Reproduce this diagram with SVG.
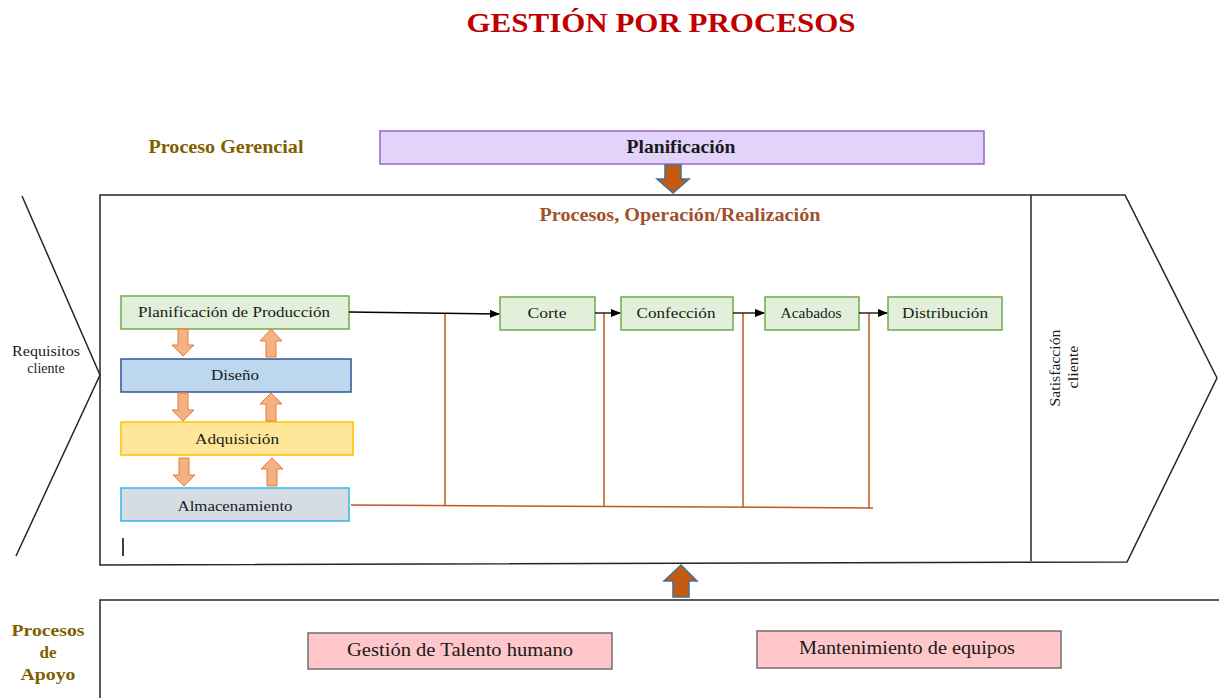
<svg xmlns="http://www.w3.org/2000/svg" width="1219" height="698" viewBox="0 0 1219 698" font-family="'Liberation Serif', 'Times New Roman', serif">
<style>
text{font-family:'Liberation Serif','Times New Roman',serif;fill:#1a1a1a}
.frame{fill:none;stroke:#262626;stroke-width:1.5}
.box{stroke-width:1.5}
.grn{fill:#e2efda;stroke:#70ad47}
.pink{fill:#ffc7ca;stroke:#6f6f6f;stroke-width:1.5}
.lbl{font-size:15px;text-anchor:middle}
.olive{fill:#7f6000;font-weight:bold}
.bigarrow{fill:#c55a11;stroke:#41719c;stroke-width:1.5}
.smarrow{fill:#f4b183;stroke:#ed7d31;stroke-width:1}
.flow{stroke:#000;stroke-width:1.3;fill:none}
.brown{stroke:#c0561f;stroke-width:1.5;fill:none}
</style>
<defs>
<marker id="ah" markerWidth="10" markerHeight="8" refX="9" refY="4" orient="auto" markerUnits="userSpaceOnUse">
<path d="M0,0 L10,4 L0,8 z" fill="#000"/>
</marker>
</defs>
<rect width="1219" height="698" fill="#fff"/>
<text x="661" y="32" font-size="27" font-weight="bold" text-anchor="middle" style="fill:#c00000" textLength="389" lengthAdjust="spacingAndGlyphs">GESTIÓN POR PROCESOS</text>

<g id="proceso-gerencial">
<text x="226" y="153" font-size="18" class="olive" text-anchor="middle" textLength="155" lengthAdjust="spacingAndGlyphs">Proceso Gerencial</text>
</g>
<g id="planificacion">
<rect x="380" y="131" width="604" height="33" fill="#e2d3fb" stroke="#9b63d0" stroke-width="1.5"/>
<text x="681" y="153" font-size="18" font-weight="bold" text-anchor="middle" textLength="109" lengthAdjust="spacingAndGlyphs">Planificación</text>
</g>

<g id="operacion-frame">
<path class="frame" d="M22,196 L100,375 L16,556"/>
<path class="frame" d="M100,195 L1125,195 L1217,378 L1127,562 L100,565 Z"/>
<line class="frame" x1="1031" y1="195" x2="1031" y2="561"/>
<text x="680" y="221" font-size="18" font-weight="bold" text-anchor="middle" style="fill:#a0522d" textLength="281" lengthAdjust="spacingAndGlyphs">Procesos, Operación/Realización</text>
<line x1="123" y1="538" x2="123" y2="556" stroke="#000" stroke-width="1.5"/>
</g>

<g id="requisitos-cliente">
<text x="46" y="356" font-size="14" text-anchor="middle" textLength="68" lengthAdjust="spacingAndGlyphs">Requisitos</text>
<text x="46" y="373" font-size="14" text-anchor="middle">cliente</text>
</g>
<g id="satisfaccion-cliente">
<text transform="translate(1060,368) rotate(-90)" font-size="14" text-anchor="middle" textLength="77" lengthAdjust="spacingAndGlyphs">Satisfacción</text>
<text transform="translate(1078,367) rotate(-90)" font-size="14" text-anchor="middle" textLength="43" lengthAdjust="spacingAndGlyphs">cliente</text>
</g>

<g id="arrow-planificacion">
<path class="bigarrow" d="M665,165 L681,165 L681,179 L689,179 L673,193 L657,179 L665,179 Z"/>
</g>
<g id="arrow-apoyo">
<path class="bigarrow" d="M673,597 L689,597 L689,581 L697,581 L681,565 L664,581 L673,581 Z"/>
</g>

<g id="planificacion-produccion">
<rect class="box grn" x="121" y="296" width="228" height="33"/>
<text class="lbl" x="234" y="317" textLength="192" lengthAdjust="spacingAndGlyphs">Planificación de Producción</text>
</g>
<g id="diseno">
<rect class="box" x="121" y="359" width="230" height="33" fill="#bdd7ee" stroke="#2f5597"/>
<text class="lbl" x="235" y="380" textLength="48" lengthAdjust="spacingAndGlyphs">Diseño</text>
</g>
<g id="adquisicion">
<rect class="box" x="121" y="422" width="232" height="33" fill="#ffe699" stroke="#ffc000"/>
<text class="lbl" x="237" y="444" textLength="84" lengthAdjust="spacingAndGlyphs">Adquisición</text>
</g>
<g id="almacenamiento">
<rect class="box" x="121" y="488" width="228" height="33" fill="#d6dce4" stroke="#33b5ee"/>
<text class="lbl" x="235" y="511" textLength="115" lengthAdjust="spacingAndGlyphs">Almacenamiento</text>
</g>

<g id="small-arrows">
<path class="smarrow" d="M178,329 L188,329 L188,345 L194,345 L183,356 L172,345 L178,345 Z"/>
<path class="smarrow" d="M266,357 L276,357 L276,341 L282,341 L271,329 L260,341 L266,341 Z"/>
<path class="smarrow" d="M178,393 L188,393 L188,410 L194,410 L183,421 L172,410 L178,410 Z"/>
<path class="smarrow" d="M266,421 L276,421 L276,404 L282,404 L271,393 L260,404 L266,404 Z"/>
<path class="smarrow" d="M179,458 L189,458 L189,475 L195,475 L184,486 L173,475 L179,475 Z"/>
<path class="smarrow" d="M267,486 L277,486 L277,469 L283,469 L272,458 L261,469 L267,469 Z"/>
</g>

<g id="corte">
<rect class="box grn" x="500" y="297" width="95" height="33"/>
<text class="lbl" x="547" y="318" textLength="39" lengthAdjust="spacingAndGlyphs">Corte</text>
</g>
<g id="confeccion">
<rect class="box grn" x="621" y="297" width="112" height="33"/>
<text class="lbl" x="676" y="318" textLength="79" lengthAdjust="spacingAndGlyphs">Confección</text>
</g>
<g id="acabados">
<rect class="box grn" x="765" y="297" width="94" height="33"/>
<text class="lbl" x="811" y="318" textLength="61" lengthAdjust="spacingAndGlyphs">Acabados</text>
</g>
<g id="distribucion">
<rect class="box grn" x="888" y="297" width="114" height="33"/>
<text class="lbl" x="945" y="318" textLength="86" lengthAdjust="spacingAndGlyphs">Distribución</text>
</g>

<g id="connectors">
<path class="brown" d="M351,505 L873,508"/>
<line class="brown" x1="445" y1="314" x2="445" y2="506"/>
<line class="brown" x1="604" y1="313" x2="604" y2="507"/>
<line class="brown" x1="743" y1="313" x2="743" y2="507"/>
<line class="brown" x1="869" y1="313" x2="869" y2="508"/>
<path class="flow" d="M349,312 L499,314" marker-end="url(#ah)"/>
<path class="flow" d="M595,313 L620,313" marker-end="url(#ah)"/>
<path class="flow" d="M733,313 L764,313" marker-end="url(#ah)"/>
<path class="flow" d="M859,313 L887,313" marker-end="url(#ah)"/>
</g>

<g id="procesos-apoyo">
<path class="frame" d="M100,698 L100,600 L1219,600"/>
<text x="48" y="636" font-size="17" class="olive" text-anchor="middle" textLength="73" lengthAdjust="spacingAndGlyphs">Procesos</text>
<text x="48" y="658" font-size="17" class="olive" text-anchor="middle">de</text>
<text x="48" y="680" font-size="17" class="olive" text-anchor="middle" textLength="55" lengthAdjust="spacingAndGlyphs">Apoyo</text>
</g>
<g id="talento-humano">
<rect class="pink" x="308" y="633" width="304" height="36"/>
<text x="460" y="656" font-size="18" text-anchor="middle" textLength="226" lengthAdjust="spacingAndGlyphs">Gestión de Talento humano</text>
</g>
<g id="mantenimiento">
<rect class="pink" x="757" y="631" width="304" height="37"/>
<text x="907" y="654" font-size="18" text-anchor="middle" textLength="216" lengthAdjust="spacingAndGlyphs">Mantenimiento de equipos</text>
</g>
</svg>
